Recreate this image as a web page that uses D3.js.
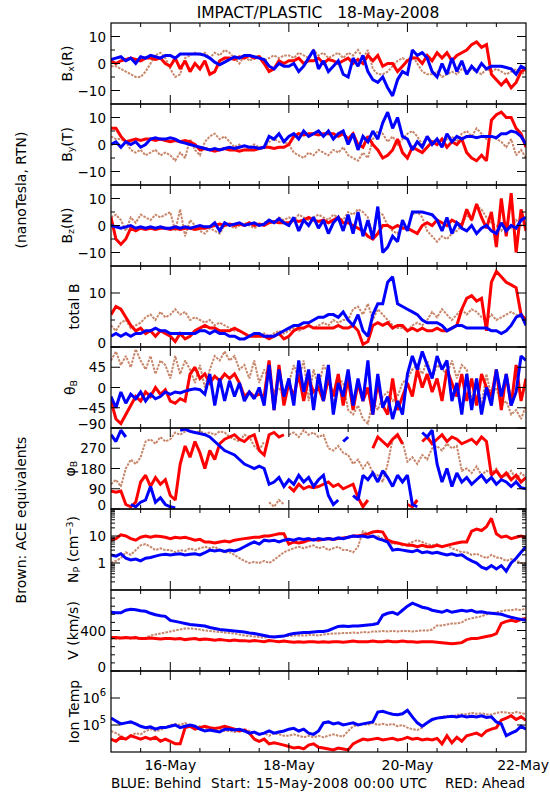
<!DOCTYPE html>
<html><head><meta charset="utf-8">
<script src="https://cdn.jsdelivr.net/npm/d3@7"></script>
<style>body{margin:0;background:#fff} svg{display:block} text{font-family:"DejaVu Sans",sans-serif;fill:#000}</style>
</head><body><svg id="c" width="550" height="800"></svg>
<script>
// time samples (hours since 15-May-2008 00:00 UTC), 2-hour spacing
const hours = d3.range(0, 169, 2);
const timeLabels = ["16-May", "18-May", "20-May", "22-May"];
const timeLabelHours = [24, 72, 120, 168];

// ---- Bx (R) ----
const bxBehind = [1.5,2,2.5,1,2,0,2.5,2,3,2.5,2,3, 3,2,3.5,3.5,3.5,3.5,3.5,3,2,0.5,-0.5,0.5, 1.5,2.5,2,3,3,2.5,2,1.5,-1,-2,0,-1, -1,0,-3,-1,2,5,-2,1,-3,-1,1,-4, -5,2,-1,3,-3,-6,-7,-5,-9,-12,-6,-3, -4,5,3,4,2,-3,-5,0,-4,2,-3,1, -4,-1,-3,0,-2,-1,-1,-1,-1.5,-2,-4,-1, -2];
const bxAhead = [1,0,1,1.5,2,1.5,1,2,2,1.5,2,0, -1,2,-2,1,-3,0,-2,1,-4,-3,1,2, 2,1.5,2.5,2,3,2,2.5,0,-3,-2,1,0, 1,1,2,0,1,1,2,0,1.5,1,0,1, 2,0,1.5,0,3,1,3,-1,0,0,-3,-1, 1,2,2,0,3,1,4,2,4,1,3,4, 5,7,8,6,7,-4,-6,-8,-6,-9,-7,-3, -2];
const bxACE = [-1,-1,-2,-3,-4,-5,-5,-3,0,3,4,2, -2,-5,-4,2,3,4,3,4,2,4,3,5, 4,2,0,3,1,2,3,1,2,3,2,3, 3,2,4,3,2,5,3,4,2,3,4,2, 4,3,5,2,5,-2,-4,-4,-3,-1,1,2, 1,3,0,-3,-4,-4,-3,-5,-4,-3,-4,-2, -3,-2,-3,-4,-2,-3,-2,-3,-4,-3,-2,-4, -3];

// ---- By (T) ----
const byBehind = [0,1,-1,1,0,1,-1,0,2,2.5,2,2, 2.5,2,1,0.5,0,-0.5,-1,-1.5,-2,-1.5,-2,-1.5, -1,-1.5,-1,-0.5,-1,-1,-1.5,-1,3,2,4,1, 3,4,2,5,3,4,5,3,5,2,4,5, 0,4,-2,3,1,5,2,8,12,6,10,3, 2,-2,1,-1,3,0,2,-1,4,1,3,2, 3,3,2.5,3,3,3,2.5,4,4,5,4.5,3, 0];
const byAhead = [6,6,3,1,1.5,2,1.5,2,2,1.5,2,1.5, 1,1.5,1,1.5,1,0,-2,-1.5,-2,-2.5,-2,-1.5, -2,-2,-2.5,-2,-2,-2,-1.5,-1,-1,-1.5,-1,-1, 0,3,4,3.5,4,4,3.5,4,4,4,3,4, 2,4,0,-1,3,0,-2,-5,-4,-2,2,-3, -5,-1,-2,-3,-1,1,0,2,-1,1,0,2, -3,-5,-6,-4,-6,9,11,12,10,10,6,4, -1];
const byACE = [3,2,2,1,-2,-3,-2,-4,-3,-2,-4,-3, -4,-6,-3,-5,2,-2,-4,1,3,4,2,3, 1,-1,0,-2,-1,0,-1,-1,1,2,1,1, 0,-3,-4,-5,-3,-4,-2,-3,-4,-2,-3,-1, -4,-5,-6,-3,-5,2,5,4,1,3,0,2, 4,5,3,0,3,1,2,0,2,3,1,4, 5,3,6,4,2,3,2,1,-1,2,-4,-2, -5];

// ---- Bz (N) ----
const bzBehind = [0,-0.5,-1,-0.5,0,-1,-0.5,-1,-0.5,-1,-0.5,-1, -1,-0.5,-1,-0.5,-1,-0.5,0,-0.5,-0.5,1,-2,1, 0,0.5,1,0,0.5,1,0,0.5,2,1,2.5,1, 0,3,-2,2,0,3,-1,2,-3,1,3,-2, 4,-3,5,-4,2,-5,7,-10,-8,-4,-6,2, -2,5,5,5,4.5,4,2,-2,3,-3,1,-1, -2,0,-3,-1,0,-2,-3,1,-2,0,-1,2, 3];
const bzAhead = [3,-5,-7,-5,-1,-2,-1,-1.5,-1,-1.5,-1,-1, -1.5,-1,-1.5,-1,-1,-1.5,-1,-1,-0.5,0,0.5,0, 0.5,0,0.5,0,1,0,0.5,0,1,1.5,1,1, 1,2,1.5,2,3,2,1.5,2,1,2,3,1, 1,0,-1,-2,-4,-5,-3,0,0,-1,0,-1, -1,-2,-3,0,1,0,2,1,0,2,1,0, 6,2,8,3,-1,5,-8,10,-4,12,-10,6, -2];
const bzACE = [3,4,2,-2,3,1,4,3,2,4,3,4, 5,-2,6,-4,2,0,-2,-3,-1,-2,-3,0, 0,-1,0,1,0,-1,0,1,2,1,3,2, 3,2,4,3,2,3,4,3,2,4,3,2, 5,4,6,5,3,-3,5,4,0,-2,-3,0, -1,4,5,3,-2,-4,-6,-4,-5,-3,-2,0, 4,2,7,6,3,1,0,-2,1,-1,2,0, 1];

// ---- total B ----
const btBehind = [2,2.5,2,2.5,2,2.5,2.5,3,3,3.5,3,3, 2.5,2.5,2.5,2.5,2.5,2.5,3,3,2.5,3,2.5,2.5, 2,2,1.5,1.5,2,2.5,2.5,2,2,2,2.5,3, 3.5,4,4,4.5,4.5,5,5.5,5.5,6,6,5.5,6.5, 5,4,6,3,2,6,8,8,12,13,8,7.5, 7,6.5,6,5,4.5,4.5,4.5,4,3,3.5,4,4, 3.5,3.5,3.5,3.5,3.5,3,3,2.5,3,4,5.5,6, 4];
const btAhead = [6,7.5,7,5.5,4,3,3.5,2.5,3,2,3,2.5, 2,1,2.5,1.5,2,3,3.5,4,3.5,3.5,3,3, 3,3.5,3,2.5,2,2,2,2,1.5,2,2.5,1.5, 2,3,3.5,3.5,4,3.5,3.5,3.5,3.5,3.5,4,3.5, 3.5,4,3,0.5,1,4,4.5,4,4.5,3.5,4,4, 3,3.5,3,3.5,3,3,3.5,3,3,3.5,4,7, 9,9.5,8.5,9,3,12,14,13,12,11.5,11,6, 5];
const btACE = [4,3,4.5,5,3.5,4,4.5,5.5,6,5,6.5,5.5, 6,7,6,6.5,5,5.5,5,4.5,5,4,4.5,4, 3.5,3,3,2.5,2,2.5,2,2.5,2,2.5,3,2.5, 3,3.5,3,3.5,4,3.5,4,4.5,4,5,4.5,5, 5,7,7.5,6,8,5,7,6,5,4,3.5,3.5, 3,4,4.5,4,5,6.5,5.5,7,6,5,6,7, 6,7,6.5,5.5,5,6,5,5.5,6,6.5,6,5.5, 5];

// ---- theta B (deg) ----
const thBehind = [-20,-45,-10,-35,-15,-25,-10,-30,-15,-25,-20,-10, -15,-10,-12,-8,-5,-3,-5,-15,30,-40,20,-30, 15,-20,10,-30,-10,-25,0,-40,50,-50,40,-20, 20,-40,60,-10,40,-50,30,-30,50,-60,10,-20, 40,-40,20,-30,60,-60,30,-45,-20,-70,-30,-60, 30,70,40,80,50,20,70,40,60,-30,10,-60, 30,-50,20,-60,0,-40,40,-20,30,-40,-10,70, 60];
const thAhead = [-30,-70,-80,-60,-40,-20,-30,-10,-20,0,-15,-5, -30,-35,-25,-30,30,45,20,30,10,25,15,30, 20,30,10,-20,-10,-20,-15,-20,60,-50,50,-40, 10,-20,30,-30,20,-10,0,-30,20,-20,30,-40, 20,-50,10,-30,0,-60,10,-40,-60,20,-50,-20, 10,-20,40,0,30,-10,20,-30,40,10,-20,30, -30,20,-40,30,0,-20,40,-50,30,-40,50,-30, 20];
const thACE = [60,80,50,70,45,85,60,40,70,30,60,50, 20,70,30,60,40,10,50,0,40,70,60,80, 60,70,40,50,20,60,10,40,20,-10,0,-20, 10,50,20,60,-30,40,0,50,30,-40,20,10, -50,-60,-40,-70,-80,-30,-50,-20,-10,-30,-20,10, 20,40,50,30,60,20,50,40,30,60,20,50, 40,-30,20,-40,30,-20,0,-40,-30,-60,-50,-70, -40];

// ---- phi B (deg) ----
const phBehind = [330,300,350,320,20,10,30,40,100,30,50,20, 10,5,350,355,345,340,335,330,320,300,280,260, 250,240,220,200,190,180,190,180,110,120,140,100, 130,110,150,120,140,100,130,150,60,20,40,300, 320,60,40,150,130,160,120,170,140,100,150,120, 150,20,10,340,320,350,200,120,180,100,160,120, 140,110,130,150,120,140,110,130,120,100,120,95, 90];
const phAhead = [80,75,80,20,10,30,120,150,100,140,110,130, 60,40,200,280,230,300,250,180,260,220,290,310, 320,330,310,300,320,330,260,240,330,340,320,330, 100,80,110,90,100,95,100,110,120,100,110,90, 100,110,50,10,40,270,320,300,280,310,330,290, 20,10,40,300,320,290,310,330,300,320,310,290, 300,310,290,320,300,150,170,140,160,130,150,120, 140];
const phACE = [110,130,100,180,220,200,230,300,310,290,320,300, 310,340,330,345,350,340,345,335,340,330,345,340, 320,310,300,330,320,280,260,300,30,10,40,20, 330,340,320,350,330,340,320,330,270,260,280,250, 240,200,220,180,210,160,150,120,200,310,320,300, 210,230,200,240,220,270,280,260,290,270,280,170, 180,160,190,150,170,160,180,140,150,170,130,160, 140];

// ---- Np (cm^-3) ----
const npBehind = [2,1.8,2.2,1.5,1.3,1.4,1.2,1.5,1.6,1.8,2,2.1, 2,2.1,2.2,2,2.1,2.2,2,2.4,3,2.8,3,2.7, 3,2.8,3.2,4,5,6,5,7,6.5,7,6,7, 7.5,7,8,7.5,8,7,8,7.5,8,7.5,8.5,8, 9,10,9.5,10,9,10,8,7,6,3,3.2,3, 2.8,2.6,3,2.4,2.6,2.3,2.5,2.2,2,2.2,1.9,2, 1.5,1.2,1,0.7,0.6,0.8,0.6,0.8,0.5,1,1.5,2.5, 4];
const npAhead = [7,8,11,10,8,7,9,10,9,10,9.5,9, 8,9,8.5,9,8,7,7.5,6,6,5.5,6,6.5, 6,7,7.5,8,8.5,9,9,10,10,11,12,12, 5,6,5.5,6,7,7.5,7,7.5,8,7.5,8,8.5, 9,10,10,11,12,14,15,14,7,6,5.5,5, 4.5,4.5,4,4.5,4,4,4.5,4,4.5,5,5.5,6, 6,15,18,16,22,45,12,9,10,8,9,10, 9];
const npACE = [1,1.2,1.5,2.5,2,3,4.5,5,4,3,3.5,3, 3,2.5,3,2.8,3.5,3,3.5,4,3.5,4,3,2.5, 2.5,2,1.5,1.2,1,1.1,1,1.2,1,1.3,1.8,2.5, 3,3.5,4,3.5,4,4.5,3.5,4,3,3.5,4,3, 3,2.5,4,15,12,9,10,8,7,5,5.5,4.5, 5,6,7,6,5,4.5,5,4,4.5,3.5,3,2.5, 2.5,2,2.2,1.8,1.5,2,1.6,1.5,1.2,1.4,1.2,1, 1];

// ---- V (km/s) ----
const vBehind = [580,575,575,600,610,605,595,590,570,555,545,540, 500,490,480,470,460,455,450,445,430,420,410,405, 400,395,390,385,375,370,360,350,340,335,340,345, 360,370,375,380,380,385,390,390,400,420,440,445, 440,445,445,450,455,460,470,550,570,580,560,600, 640,670,650,630,620,600,590,580,600,580,590,600, 590,600,580,585,575,570,565,560,545,530,520,510, 500];
const vAhead = [330,330,325,330,325,330,320,320,325,320,315,320, 320,315,320,310,315,320,310,315,310,305,310,305, 300,305,300,300,295,300,295,290,300,295,290,295, 290,285,290,285,290,290,285,290,285,290,290,285, 290,295,290,290,290,295,290,290,295,290,290,295, 290,290,285,290,290,290,285,280,275,270,275,280, 310,320,320,330,340,350,370,470,490,500,490,510, 520];
const vACE = [320,315,320,325,320,320,315,330,350,360,370,380, 390,400,410,420,420,415,410,400,395,390,385,380, 375,370,360,350,345,340,335,330,335,340,340,345, 345,350,350,350,355,355,350,360,365,370,370,375, 375,380,375,385,380,390,390,395,390,395,390,395, 395,390,395,400,400,410,450,450,460,470,470,480, 510,520,530,540,560,570,580,590,600,600,610,600, 620];

// ---- Ion temperature (K) ----
const tBehind = [1.8e5,1.4e5,1.1e5,1.2e5,1.3e5,1.1e5,9e4,8e4,8.5e4,7e4,8e4,8e4, 9e4,1e5,8e4,9e4,1e5,9e4,7e4,6e4,6.5e4,6e4,5.5e4,7e4, 7e4,6.5e4,7e4,6e4,5e4,5.5e4,4.5e4,5e4,6e4,5e4,5.5e4,6e4, 7e4,7.5e4,6e4,7e4,5e4,4.5e4,6e4,1.2e5,1.3e5,1.1e5,1.2e5,1e5, 1.1e5,1.2e5,1e5,1.1e5,1.2e5,1.3e5,3e5,3.2e5,2.8e5,2.5e5,2.4e5,2.6e5, 3.5e5,2e5,1.2e5,9e4,1.2e5,1.6e5,1.8e5,1.9e5,2e5,2.1e5,2e5,2.2e5, 2e5,2.1e5,2e5,2.2e5,1.9e5,2e5,1.3e5,1.1e5,4e4,5e4,6e4,9e4, 7e4];
const tAhead = [3e4,2.5e4,3.5e4,3e4,4e4,3.5e4,3e4,3.5e4,3e4,3.5e4,2.5e4,3e4, 2.5e4,2e4,2e4,8e4,9e4,7e4,8e4,9e4,8e4,7.5e4,8e4,9e4, 8e4,7e4,6e4,6.5e4,5e4,3e4,2.5e4,3e4,2e4,2.2e4,2e4,1.8e4, 1.6e4,1.4e4,1.5e4,1.3e4,1.8e4,2e4,1.5e4,1.4e4,1.3e4,1.2e4,1.4e4,1.3e4, 1.2e4,2e4,2.5e4,3e4,2.8e4,3e4,3.2e4,2.8e4,3e4,3.2e4,2.8e4,3e4, 3.5e4,3e4,3.2e4,2.8e4,3e4,2.8e4,3.2e4,2e4,4e4,2.2e4,3.5e4,2.5e4, 4e4,4.5e4,5e4,4e4,6e4,7e4,8e4,1.5e5,1.8e5,2.2e5,1.6e5,2e5, 1.5e5];
const tACE = [6e4,5e4,4e4,3e4,4e4,5e4,4.5e4,6e4,7e4,6e4,6.5e4,8e4, 1e5,1.1e5,1e5,1.2e5,9e4,8e4,9e4,8e4,7e4,8e4,7e4,6e4, 6e4,5.5e4,6e4,7e4,6e4,5e4,4.5e4,5e4,4e4,5e4,4.5e4,4e4, 4e4,4.5e4,4e4,3.5e4,4e4,3.5e4,4e4,3.5e4,4e4,4.5e4,4e4,3.8e4, 6e4,9e4,1e5,1.1e5,1e5,1.2e5,1e5,1.1e5,1e5,1.1e5,9e4,1e5, 8e4,7e4,6.5e4,8e4,1.2e5,1.5e5,1.8e5,2e5,2.2e5,2e5,2.4e5,2.5e5, 2.5e5,2.8e5,2.6e5,2.7e5,2.5e5,2.4e5,2.8e5,3e5,2.9e5,2.7e5,3e5,2.8e5, 2.5e5];

// ---- layout / styling ----
const COL = {ace: "#c8866a", ahead: "#ff0000", behind: "#0000ff"};
const L = 111, R = 526, TOP = 23, PH = 81.0;
const svg = d3.select("#c");
const x = d3.scaleLinear().domain([0, 168]).range([L, R]);

const panels = [
  {name: "bx", data: [bxACE, bxAhead, bxBehind], log: false, domain: [-15, 15], major: [-10, 0, 10], minor: [-5, 5], lab: ["−10", "0", "10"]},
  {name: "by", data: [byACE, byAhead, byBehind], log: false, domain: [-15, 15], major: [-10, 0, 10], minor: [-5, 5], lab: ["−10", "0", "10"]},
  {name: "bz", data: [bzACE, bzAhead, bzBehind], log: false, domain: [-15, 15], major: [-10, 0, 10], minor: [-5, 5], lab: ["−10", "0", "10"]},
  {name: "bt", data: [btACE, btAhead, btBehind], log: false, domain: [0, 15], major: [0, 10], minor: [5], lab: ["0", "10"]},
  {name: "th", data: [thACE, thAhead, thBehind], log: false, domain: [-90, 90], major: [-90, -45, 0, 45], minor: [], lab: ["−90", "−45", "0", "45"]},
  {name: "ph", data: [phACE, phAhead, phBehind], log: false, domain: [0, 360], major: [0, 90, 180, 270], minor: [], lab: ["0", "90", "180", "270"], wrap: true},
  {name: "np", data: [npACE, npAhead, npBehind], log: true, domain: [0.1, 100], major: [1, 10], minor: [0.2,0.3,0.4,0.5,0.6,0.7,0.8,0.9,2,3,4,5,6,7,8,9,20,30,40,50,60,70,80,90], lab: ["1", "10"]},
  {name: "v", data: [vACE, vAhead, vBehind], log: false, domain: [0, 800], major: [0, 400], minor: [80,160,240,320,480,560,640,720], lab: ["0", "400"]},
  {name: "t", data: [tACE, tAhead, tBehind], log: true, domain: [1e4, 1e7], major: [1e5, 1e6], minor: [], lab: ["5", "6"], pow: true}
];
const seriesColors = [COL.ace, COL.ahead, COL.behind];

const defs = svg.append("defs");

panels.forEach((p, i) => {
  const top = TOP + i * PH, bot = top + PH;
  const y = (p.log ? d3.scaleLog() : d3.scaleLinear()).domain(p.domain).range([bot, top]).clamp(true);
  const g = svg.append("g");
  defs.append("clipPath").attr("id", "clip" + i).append("rect")
    .attr("x", L).attr("y", top).attr("width", R - L).attr("height", PH);
  const dg = g.append("g").attr("clip-path", `url(#clip${i})`);

  p.data.forEach((vals, k) => {
    let segs = [[]];
    vals.forEach((v, j) => {
      if (p.wrap && j > 0 && Math.abs(v - vals[j - 1]) > 180) segs.push([]);
      segs[segs.length - 1].push([hours[j], v]);
    });
    const line = d3.line().x(d => x(d[0])).y(d => y(d[1]));
    segs.forEach(s => {
      dg.append("path").attr("d", s.length > 1 ? line(s) : `M${x(s[0][0]) - 1.5},${y(s[0][1])}h3`)
        .attr("fill", "none").attr("stroke", seriesColors[k])
        .attr("stroke-width", k === 0 ? 2 : 3)
        .attr("stroke-dasharray", k === 0 ? "2.5,1.2" : null)
        .attr("stroke-linejoin", "miter").attr("stroke-miterlimit", 2);
    });
  });

  g.append("rect").attr("x", L).attr("y", top).attr("width", R - L).attr("height", PH)
    .attr("fill", "none").attr("stroke", "#000").attr("stroke-width", 1.2);

  const ticks = g.append("g").attr("stroke", "#000").attr("stroke-width", 1);
  p.major.forEach(v => {
    ticks.append("line").attr("x1", L).attr("x2", L + 9).attr("y1", y(v)).attr("y2", y(v));
    ticks.append("line").attr("x1", R).attr("x2", R - 9).attr("y1", y(v)).attr("y2", y(v));
  });
  p.minor.forEach(v => {
    ticks.append("line").attr("x1", L).attr("x2", L + 4).attr("y1", y(v)).attr("y2", y(v));
    ticks.append("line").attr("x1", R).attr("x2", R - 4).attr("y1", y(v)).attr("y2", y(v));
  });
  d3.range(12, 168, 12).forEach(h => {
    const len = timeLabelHours.includes(h) ? 9 : 4;
    ticks.append("line").attr("x1", x(h)).attr("x2", x(h)).attr("y1", top).attr("y2", top + len);
    ticks.append("line").attr("x1", x(h)).attr("x2", x(h)).attr("y1", bot).attr("y2", bot - len);
  });

  p.major.forEach((v, j) => {
    let yy = y(v);
    if (Math.abs(yy - bot) < 1) yy -= 4;
    const t = g.append("text").attr("x", 106).attr("y", yy).attr("text-anchor", "end")
      .attr("dominant-baseline", "central").attr("font-size", 13.5);
    if (p.pow) {
      t.text("10");
      t.append("tspan").attr("dy", -6).attr("font-size", 10).text(p.lab[j]);
    } else t.text(p.lab[j]);
  });
});

function ytitle(cx, cy, parts) {
  const t = svg.append("text").attr("transform", `translate(${cx},${cy}) rotate(-90)`)
    .attr("text-anchor", "middle").attr("dominant-baseline", "central").attr("font-size", 14);
  parts.forEach(pt => {
    const s = t.append("tspan").text(pt[0]);
    if (pt[1] === "sub") s.attr("baseline-shift", "-30%").attr("font-size", 9.5);
    if (pt[1] === "sup") s.attr("baseline-shift", "40%").attr("font-size", 9.5);
  });
  return t;
}
const yc = i => TOP + i * PH + PH / 2;
ytitle(67, yc(0), [["B"], ["x", "sub"], ["(R)"]]);
ytitle(67, yc(1), [["B"], ["y", "sub"], ["(T)"]]);
ytitle(67, yc(2), [["B"], ["z", "sub"], ["(N)"]]);
ytitle(74, yc(3), [["total B"]]);
ytitle(70, yc(4), [["θ"], ["B", "sub"]]);
ytitle(70, yc(5), [["φ"], ["B", "sub"]]);
ytitle(73, yc(6), [["N"], ["P", "sub"], [" (cm"], ["−3", "sup"], [")"]]);
ytitle(73, yc(7), [["V (km/s)"]]);
ytitle(74, yc(8), [["Ion Temp"]]);
ytitle(21, 190, [["(nanoTesla, RTN)"]]);
ytitle(21, 520, [["Brown: ACE equivalents"]]).attr("fill", COL.ace);

svg.append("text").attr("x", 318).attr("y", 18).attr("text-anchor", "middle")
  .attr("font-size", 15.5).attr("xml:space", "preserve").style("white-space", "pre")
  .text("IMPACT/PLASTIC   18-May-2008");

timeLabels.forEach((s, j) => {
  const xx = x(timeLabelHours[j]);
  const t = svg.append("text").attr("y", 770).attr("font-size", 14).text(s);
  if (xx + 26 > 549) t.attr("x", 549).attr("text-anchor", "end");
  else t.attr("x", xx).attr("text-anchor", "middle");
});

svg.append("text").attr("x", 111).attr("y", 788).attr("font-size", 13.5).attr("fill", COL.behind).text("BLUE: Behind");
svg.append("text").attr("x", 211).attr("y", 788).attr("font-size", 13.5).attr("textLength", 216).text("Start: 15-May-2008 00:00 UTC");
svg.append("text").attr("x", 525).attr("y", 788).attr("text-anchor", "end").attr("font-size", 13.5).attr("fill", COL.ahead).text("RED: Ahead");
</script></body></html>
